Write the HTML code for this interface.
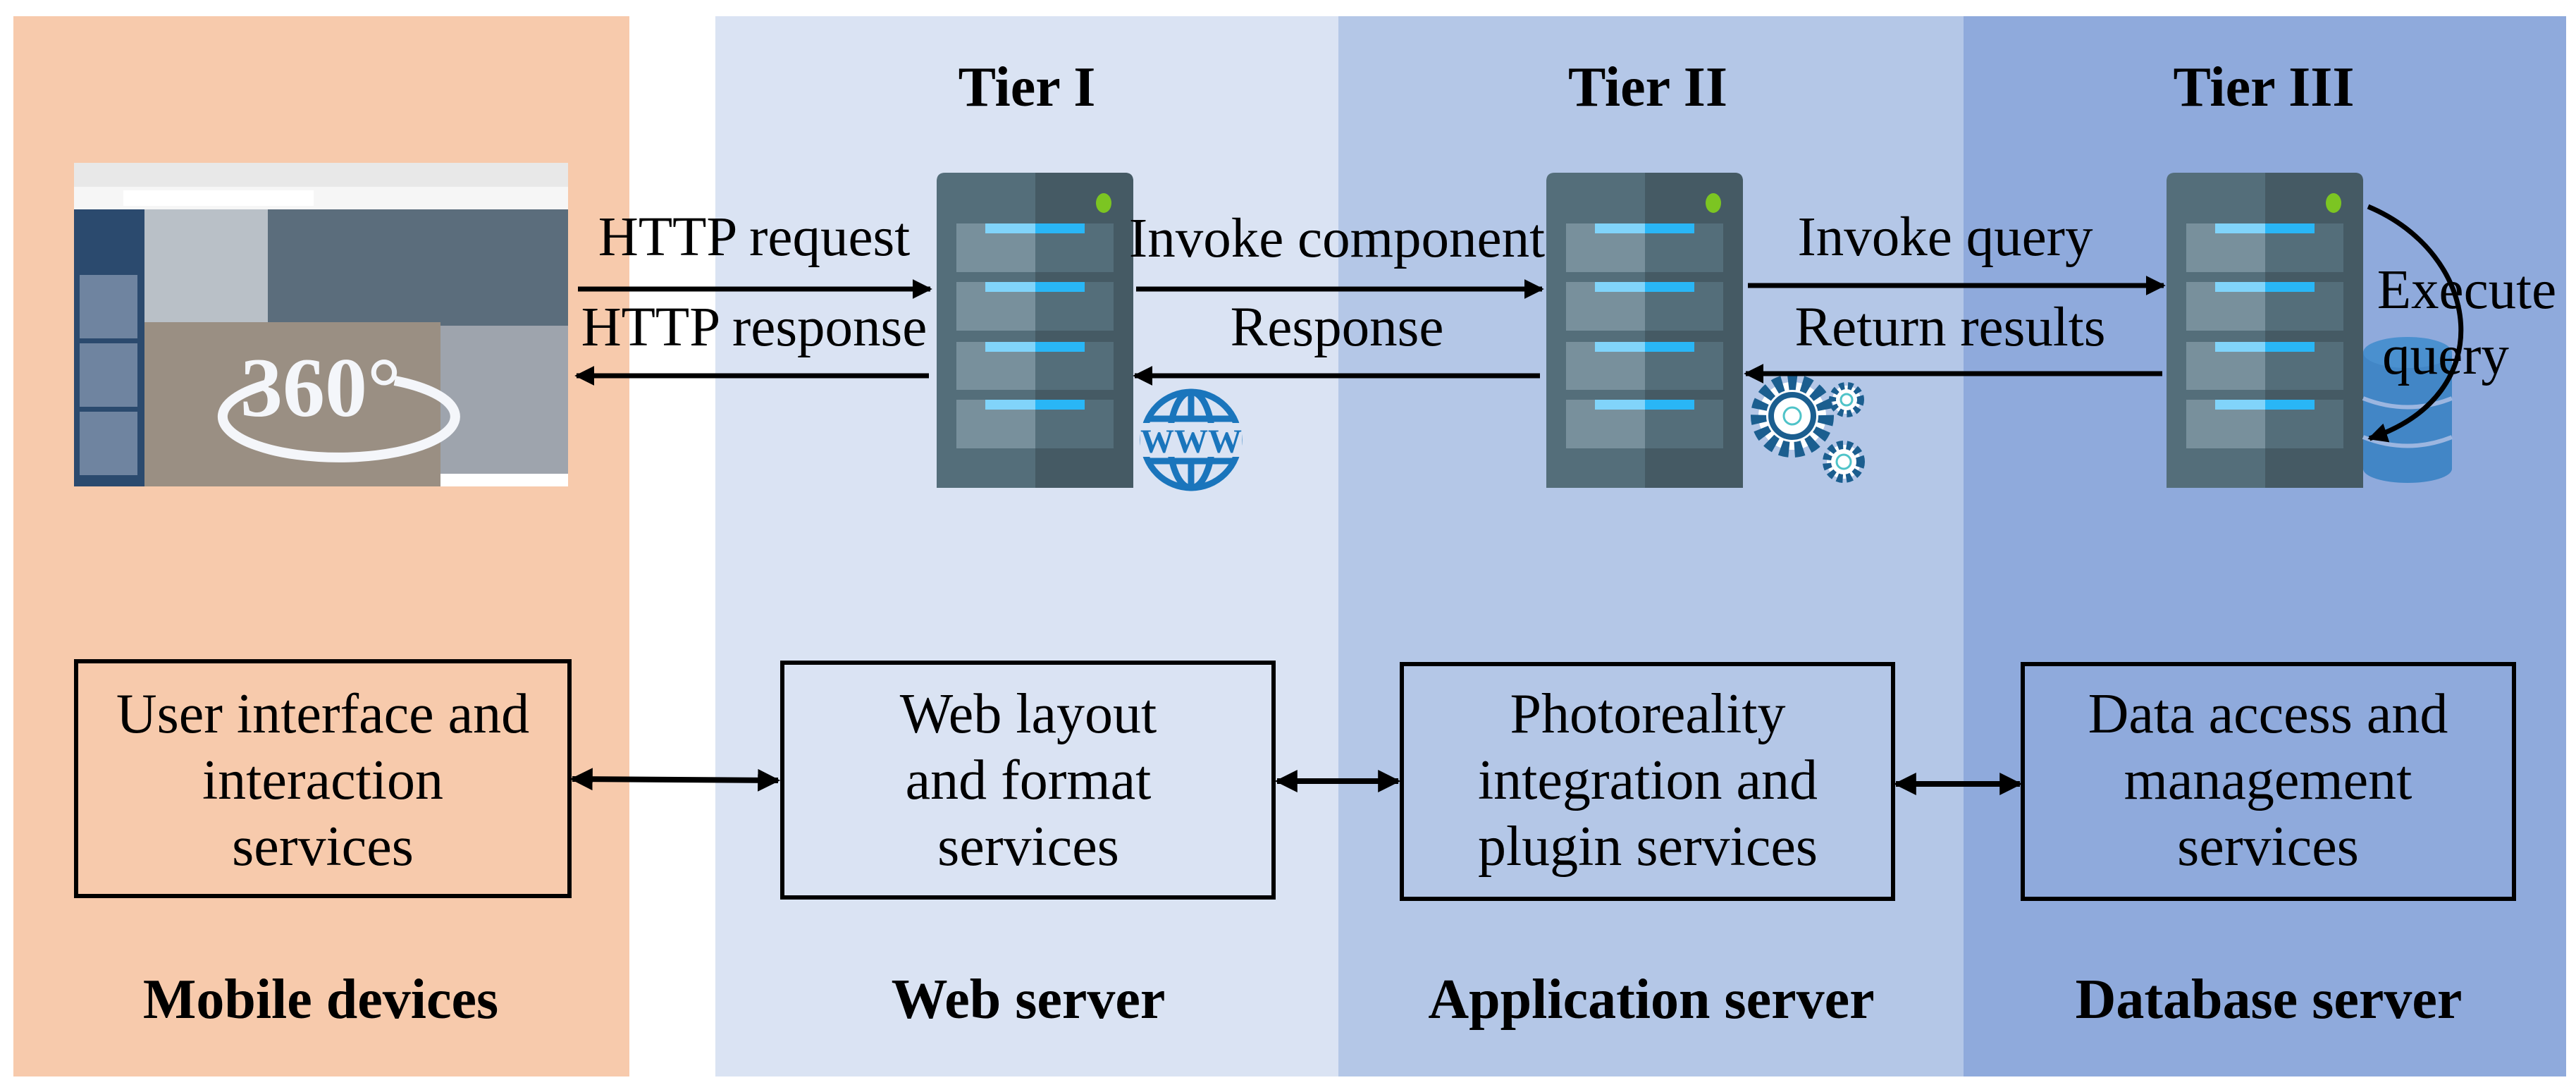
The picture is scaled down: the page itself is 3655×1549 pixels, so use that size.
<!DOCTYPE html>
<html><head><meta charset="utf-8"><style>
html,body{margin:0;padding:0;background:#fff}
svg{display:block}
text{font-family:"Liberation Serif",serif;fill:#000}
</style></head><body>
<svg width="3655" height="1549" viewBox="0 0 3655 1549" xmlns="http://www.w3.org/2000/svg">
<defs>
<marker id="ah" viewBox="0 0 10 10" refX="9" refY="5" markerWidth="4" markerHeight="5" markerUnits="strokeWidth" orient="auto-start-reverse"><path d="M0,0 L10,5 L0,10 z" fill="#000"/></marker>
<g id="srv">
<path d="M0,12 Q0,0 12,0 L267,0 Q279,0 279,12 L279,447 L0,447 z" fill="#546e7a"/>
<path d="M140,0 L267,0 Q279,0 279,12 L279,447 L140,447 z" fill="#455a64"/>
<g>
<rect x="28" y="72" width="112" height="69" fill="#78909c"/><rect x="140" y="72" width="111" height="69" fill="#546e7a"/>
<rect x="28" y="155" width="112" height="69" fill="#78909c"/><rect x="140" y="155" width="111" height="69" fill="#546e7a"/>
<rect x="28" y="240" width="112" height="68" fill="#78909c"/><rect x="140" y="240" width="111" height="68" fill="#546e7a"/>
<rect x="28" y="322" width="112" height="69" fill="#78909c"/><rect x="140" y="322" width="111" height="69" fill="#546e7a"/>
<rect x="69" y="72" width="71" height="14" fill="#81d4fa"/><rect x="140" y="72" width="70" height="14" fill="#29b6f6"/>
<rect x="69" y="155" width="71" height="14" fill="#81d4fa"/><rect x="140" y="155" width="70" height="14" fill="#29b6f6"/>
<rect x="69" y="240" width="71" height="14" fill="#81d4fa"/><rect x="140" y="240" width="70" height="14" fill="#29b6f6"/>
<rect x="69" y="322" width="71" height="14" fill="#81d4fa"/><rect x="140" y="322" width="70" height="14" fill="#29b6f6"/>
</g>
<ellipse cx="237" cy="43" rx="11" ry="14" fill="#7cc522"/>
</g>
</defs>
<rect x="19" y="23" width="874" height="1504" fill="#f7caac"/>
<rect x="1015" y="23" width="884" height="1504" fill="#dae3f3"/>
<rect x="1899" y="23" width="887" height="1504" fill="#b4c7e7"/>
<rect x="2786" y="23" width="855" height="1504" fill="#8faadc"/>

<g font-weight="bold" font-size="80" text-anchor="middle">
<text x="1457" y="150">Tier I</text>
<text x="2338" y="150">Tier II</text>
<text x="3212" y="150">Tier III</text>
</g>

<g>
<rect x="105" y="231" width="701" height="459" fill="#8a8378"/>
<rect x="105" y="231" width="701" height="34" fill="#e8e8e8"/>
<rect x="105" y="265" width="701" height="32" fill="#f6f6f6"/>
<rect x="175" y="270" width="270" height="22" fill="#fff"/>
<rect x="105" y="297" width="100" height="393" fill="#2b4a6e"/>
<rect x="113" y="390" width="82" height="90" fill="#6f84a0"/>
<rect x="113" y="487" width="82" height="90" fill="#6f84a0"/>
<rect x="113" y="584" width="82" height="90" fill="#6f84a0"/>
<rect x="205" y="297" width="601" height="160" fill="#b9c0c7"/>
<rect x="380" y="297" width="426" height="230" fill="#5b6d7c"/>
<rect x="205" y="457" width="420" height="233" fill="#9a8f83"/>
<rect x="625" y="462" width="181" height="210" fill="#9ea4ad"/>
<rect x="625" y="672" width="181" height="18" fill="#fff"/>
<path d="M380,545 A165,58 0 1 0 560,540" fill="none" stroke="#f4f6fa" stroke-width="14"/>
<text x="455" y="590" font-family="Liberation Sans,sans-serif" font-weight="bold" font-size="120" text-anchor="middle" style="fill:#f4f6fa">360°</text>
</g>

<use href="#srv" x="1329" y="245"/>
<use href="#srv" x="2194" y="245"/>
<use href="#srv" x="3074" y="245"/>

<g transform="translate(1690,624)" fill="none" stroke="#1a75bc" stroke-width="9">
<circle r="68"/>
<ellipse rx="30" ry="68"/>
<line x1="0" y1="-68" x2="0" y2="-30"/><line x1="0" y1="30" x2="0" y2="68"/>
<line x1="-62" y1="-30" x2="62" y2="-30"/><line x1="-62" y1="30" x2="62" y2="30"/>
<rect x="-72" y="-24" width="144" height="48" fill="#dae3f3" stroke="none"/>
<text x="0" y="18" font-family="Liberation Sans,sans-serif" font-weight="bold" font-size="48" text-anchor="middle" style="fill:#1a75bc" stroke="none">WWW</text>
</g>

<g fill="#fff" stroke="#1b5e8f">
<circle cx="2543" cy="590" r="48" stroke-width="22" stroke-dasharray="12 8"/>
<circle cx="2543" cy="590" r="30" stroke-width="8"/>
<circle cx="2543" cy="590" r="12" stroke="#4fc3c8" stroke-width="3"/>
<circle cx="2620" cy="567" r="20" stroke-width="10" stroke-dasharray="7 5"/>
<circle cx="2620" cy="567" r="8" stroke="#4fc3c8" stroke-width="3"/>
<circle cx="2616" cy="655" r="24" stroke-width="12" stroke-dasharray="8 5"/>
<circle cx="2616" cy="655" r="10" stroke="#4fc3c8" stroke-width="3"/>
</g>

<g>
<rect x="3353" y="500" width="126" height="165" fill="#4286c6"/>
<ellipse cx="3416" cy="665" rx="63" ry="20" fill="#4286c6"/>
<ellipse cx="3416" cy="500" rx="63" ry="22" fill="#4a90cf"/>
<path d="M3353,565 Q3416,590 3479,565" fill="none" stroke="#9cb6e0" stroke-width="6"/>
<path d="M3353,620 Q3416,645 3479,620" fill="none" stroke="#9cb6e0" stroke-width="6"/>
</g>

<g stroke="#000" stroke-width="7" fill="none">
<line x1="820" y1="410" x2="1320" y2="410" marker-end="url(#ah)"/>
<line x1="1318" y1="533" x2="818" y2="533" marker-end="url(#ah)"/>
<line x1="1612" y1="410" x2="2188" y2="410" marker-end="url(#ah)"/>
<line x1="2185" y1="533" x2="1610" y2="533" marker-end="url(#ah)"/>
<line x1="2480" y1="405" x2="3070" y2="405" marker-end="url(#ah)"/>
<line x1="3068" y1="530" x2="2477" y2="530" marker-end="url(#ah)"/>
<path d="M3360,293 C3520,360 3550,560 3362,622" marker-end="url(#ah)"/>
</g>

<g font-size="79" text-anchor="middle">
<text x="1070" y="362">HTTP request</text>
<text x="1070" y="490">HTTP response</text>
<text x="1897" y="364">Invoke component</text>
<text x="1897" y="490">Response</text>
<text x="2760" y="362">Invoke query</text>
<text x="2767" y="490">Return results</text>
<text x="3500" y="437">Execute</text>
<text x="3470" y="530">query</text>
</g>

<g fill="none" stroke="#000" stroke-width="6">
<rect x="108" y="938" width="700" height="333"/>
<rect x="1110" y="940" width="697" height="333"/>
<rect x="1989" y="942" width="697" height="333"/>
<rect x="2870" y="942" width="697" height="333"/>
</g>
<g stroke="#000" stroke-width="8">
<line x1="812" y1="1105" x2="1104" y2="1107" marker-start="url(#ah)" marker-end="url(#ah)"/>
<line x1="1812" y1="1108" x2="1984" y2="1108" marker-start="url(#ah)" marker-end="url(#ah)"/>
<line x1="2690" y1="1112" x2="2866" y2="1112" marker-start="url(#ah)" marker-end="url(#ah)"/>
</g>
<g font-size="80" text-anchor="middle">
<text x="458" y="1039">User interface and</text>
<text x="458" y="1133">interaction</text>
<text x="458" y="1227">services</text>
<text x="1459" y="1039">Web layout</text>
<text x="1459" y="1133">and format</text>
<text x="1459" y="1227">services</text>
<text x="2338" y="1039">Photoreality</text>
<text x="2338" y="1133">integration and</text>
<text x="2338" y="1227">plugin services</text>
<text x="3218" y="1039">Data access and</text>
<text x="3218" y="1133">management</text>
<text x="3218" y="1227">services</text>
</g>
<g font-size="80" font-weight="bold" text-anchor="middle">
<text x="455" y="1444">Mobile devices</text>
<text x="1459" y="1444">Web server</text>
<text x="2343" y="1444">Application server</text>
<text x="3219" y="1444">Database server</text>
</g>
</svg>
</body></html>
